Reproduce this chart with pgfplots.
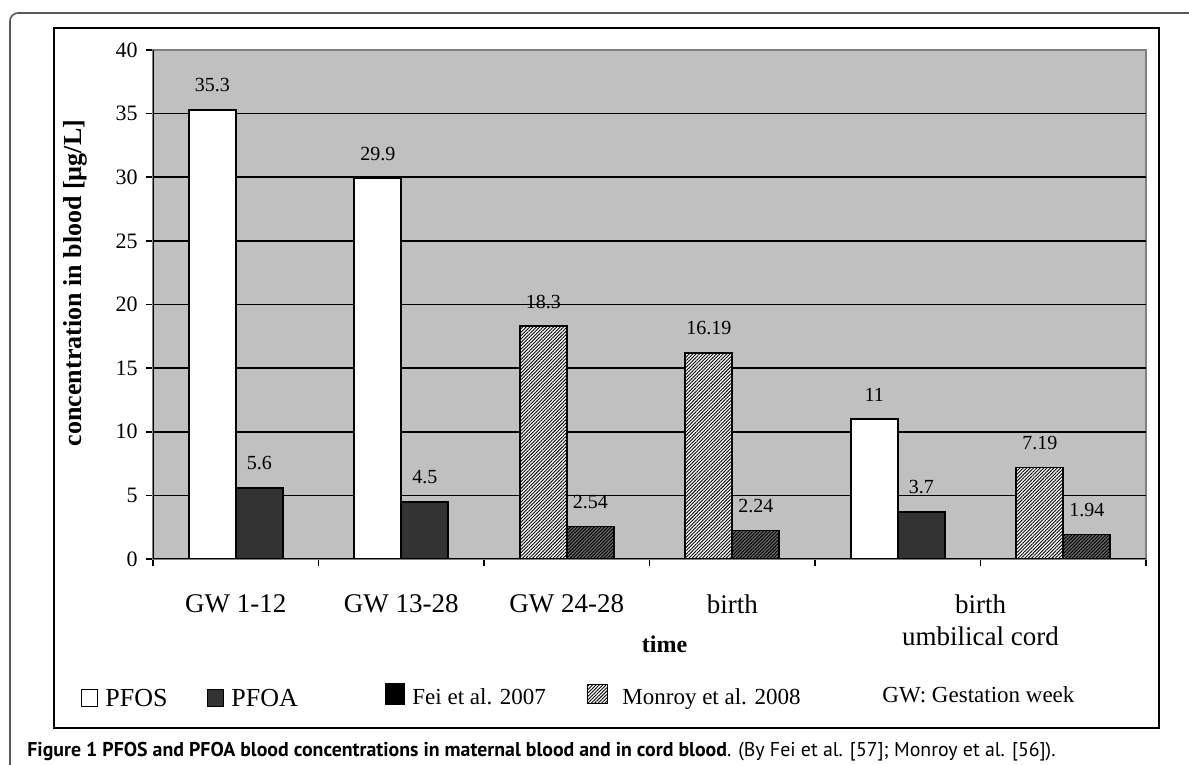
\documentclass[border=0pt]{standalone}
\usepackage{graphicx}
\usepackage{pgfplots}
\pgfplotsset{compat=1.18}
\usepackage{fontspec}
\setmainfont{Liberation Serif}
\newfontfamily\capfont{PT Sans}
\usetikzlibrary{patterns.meta}

\definecolor{plotbg}{HTML}{C0C0C0}
\definecolor{pfoa}{HTML}{333333}
\definecolor{boxgray}{HTML}{808080}

\tikzset{
  hatch/.style={pattern={Lines[angle=45,distance=1.2pt,line width=0.45pt]}, pattern color=black},
}

\begin{document}
\begin{tikzpicture}
\path[use as bounding box] (0,0) rectangle (594.5pt,382.5pt);
% frames
\draw[black!65, line width=0.8pt, rounded corners=4pt] (5pt,-20pt) -- (5pt,376pt) -- (620pt,376pt);
\draw[black, line width=1pt] (27pt,18.5pt) rectangle (579.5pt,368.5pt);

\begin{axis}[
  at={(76.5pt,103pt)}, anchor=south west,
  width=496.5pt, height=254.5pt, scale only axis,
  xmin=-0.5, xmax=5.5, ymin=0, ymax=40,
  axis background/.style={fill=plotbg},
  axis line style={boxgray, line width=0.8pt},
  ybar, bar width=0.284,
  xtick={-0.5,0.5,...,5.5}, xticklabels={},
  extra x ticks={0,1,2,3,4.5},
  extra x tick labels={GW 1-12, GW 13-28, GW 24-28, birth, birth\\umbilical cord},
  extra x tick style={major tick length=0pt},
  xticklabel style={font=\fontsize{13.5}{16}\selectfont, align=center, anchor=north, inner sep=0pt, yshift=-17.7pt},
  ytick={0,5,...,40},
  yticklabel style={font=\fontsize{11}{13}\selectfont, anchor=east, inner sep=0pt, xshift=-4pt},
  extra y ticks={5,10,...,35}, extra y tick labels={},
  extra y tick style={grid=major, major tick length=0pt, major grid style={black, line width=0.8pt}},
  xtick pos=left, ytick pos=left, tick align=outside,
  major tick length=3.5pt,
  tick style={black, line width=0.8pt},
  /pgf/number format/assume math mode=true,
  nodes near coords,
  every node near coord/.append style={font=\fontsize{10}{12}\selectfont, anchor=south, inner sep=0pt, yshift=8.5pt},
]
% Fei et al. 2007
\addplot[draw=black, line width=0.8pt, fill=white, bar shift=-0.142] coordinates {(0,35.3) (1,29.9) (4,11)};
\addplot[draw=black, line width=0.8pt, fill=pfoa, bar shift=0.142] coordinates {(0,5.6) (1,4.5) (4,3.7)};
% Monroy et al. 2008
\addplot[draw=black, line width=0.8pt, preaction={fill=white}, hatch, bar shift=-0.142] coordinates {(2,18.3) (3,16.19) (5,7.19)};
\addplot[draw=black, line width=0.8pt, preaction={fill=black!60}, hatch, bar shift=0.142] coordinates {(2,2.54) (3,2.24) (5,1.94)};
\draw[black, line width=0.8pt] (rel axis cs:0,1) -- (rel axis cs:0,0) -- (rel axis cs:1,0);
\end{axis}

% axis titles
\node[rotate=90, font=\bfseries\fontsize{13}{16}\selectfont] at (37.5pt,241pt) {concentration in blood [µg/L]};
\node[anchor=base, inner sep=0pt, font=\bfseries\fontsize{12}{14}\selectfont] at (332.25pt,56pt) {time};

% legend
\draw[black, line width=0.5pt, fill=white] (40.5pt,29pt) rectangle (48.5pt,37.5pt);
\node[anchor=base west, inner sep=0pt, font=\fontsize{13}{15}\selectfont] at (52.5pt,29pt) {PFOS};
\draw[black, line width=0.5pt, fill=pfoa] (103.5pt,29pt) rectangle (111.5pt,37.5pt);
\node[anchor=base west, inner sep=0pt, font=\fontsize{13}{15}\selectfont] at (115.5pt,29pt) {PFOA};
\fill[black] (192.5pt,30pt) rectangle (202.5pt,41pt);
\node[anchor=base west, inner sep=0pt, font=\fontsize{11.5}{14}\selectfont] at (206pt,30pt) {Fei et al. 2007};
\draw[black, line width=0.5pt, preaction={fill=white}, hatch] (293.5pt,30.5pt) rectangle (303.5pt,40pt);
\node[anchor=base west, inner sep=0pt, font=\fontsize{11.5}{14}\selectfont] at (311pt,30pt) {Monroy et al. 2008};
\node[anchor=base west, inner sep=0pt, font=\fontsize{11.5}{14}\selectfont] at (441pt,31pt) {GW: Gestation week};

% caption
\node[anchor=base west, inner sep=0pt] at (13.5pt,4pt) {\resizebox{514pt}{\height}{\capfont\fontsize{10}{12}\selectfont\textbf{Figure 1 PFOS and PFOA blood concentrations in maternal blood and in cord blood}. (By Fei et al. [57]; Monroy et al. [56]).}};
\end{tikzpicture}
\end{document}
